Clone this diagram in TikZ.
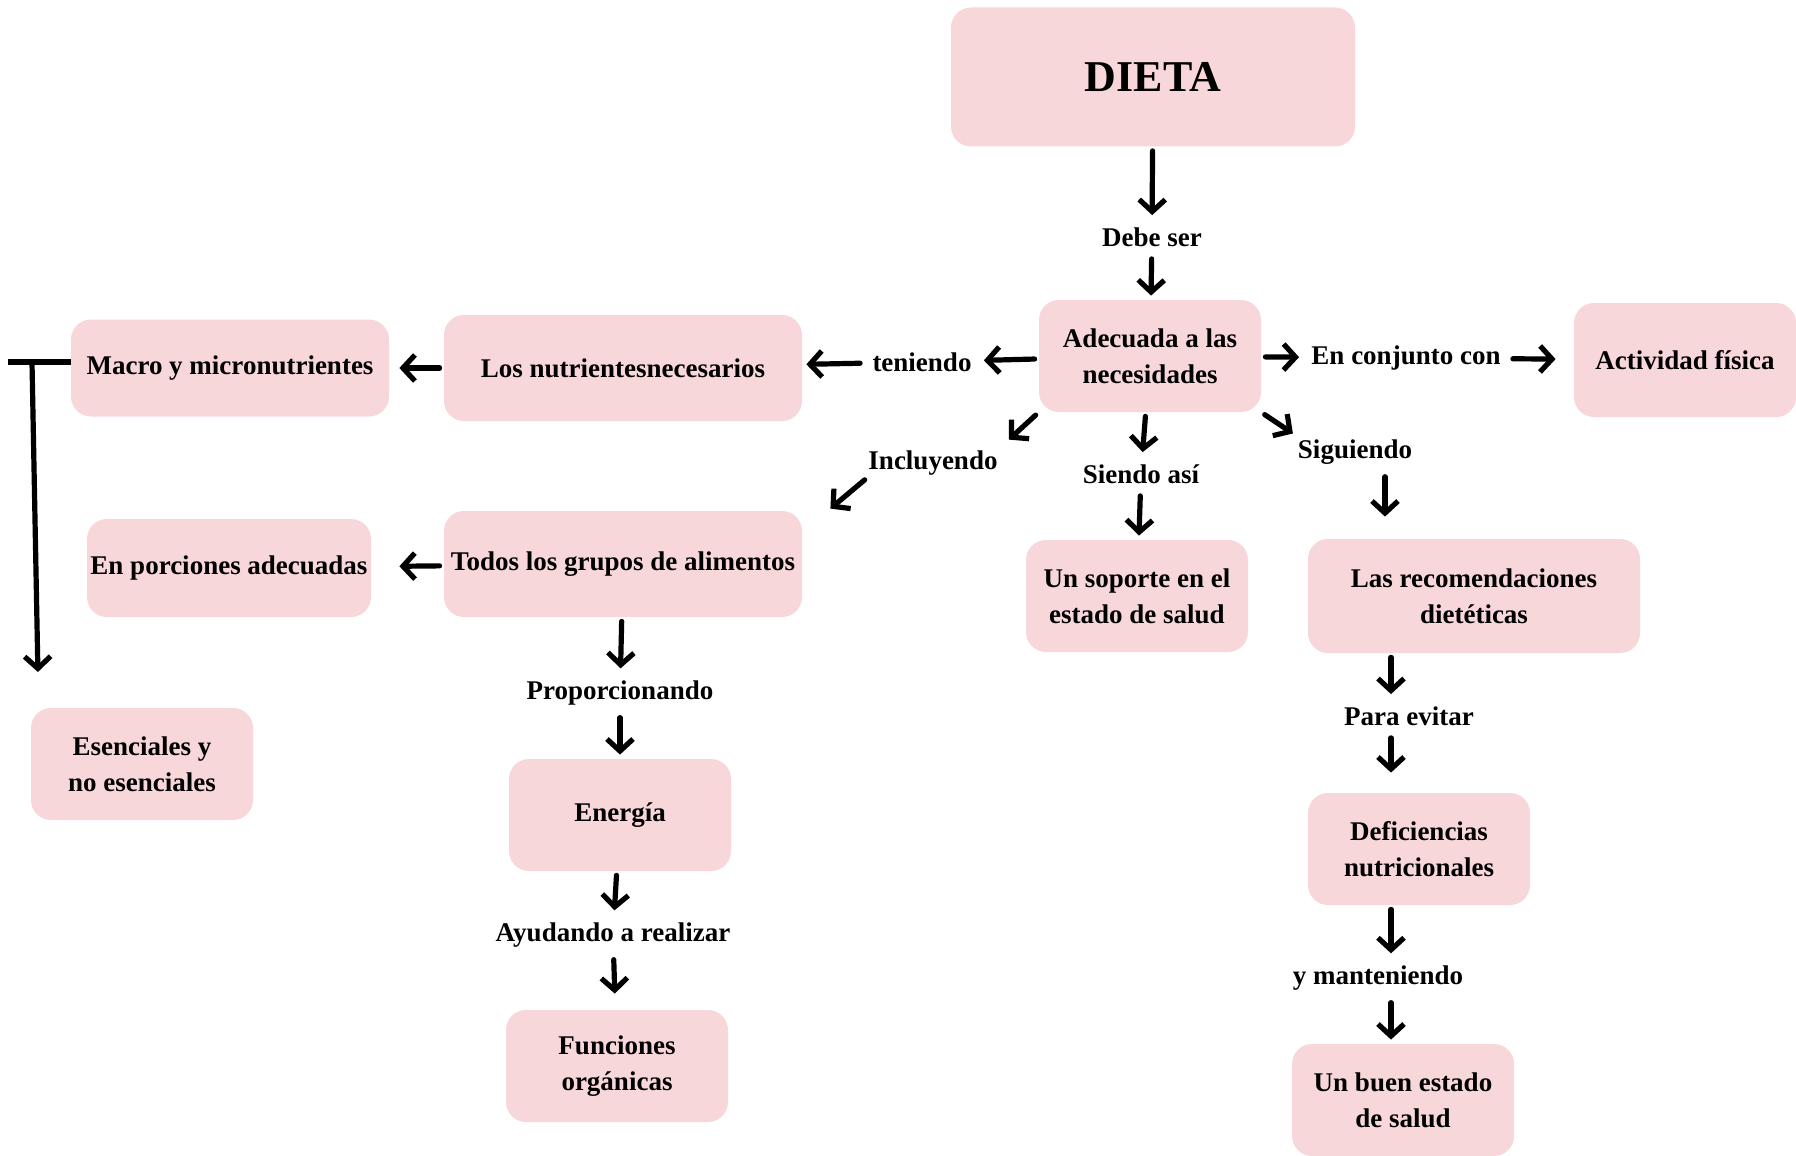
\documentclass[tikz,border=0pt]{standalone}
\usepackage{fontspec}
\setmainfont{Liberation Serif}
\usetikzlibrary{arrows.meta}
\definecolor{rosa}{RGB}{247,215,217}
\newcommand{\boxFont}[0]{\fontsize{13.5}{18}\selectfont\bfseries}

\begin{document}
\begin{tikzpicture}[x=0.5pt, y=-0.5pt]
  \tikzset{
    box/.style={fill=rosa, rounded corners=10pt, align=center, inner sep=0pt,
      minimum width=111pt, minimum height=56pt, font=\boxFont},
    lbl/.style={align=center, inner sep=4pt, font=\boxFont},
    arr/.style={-{Straight Barb[length=6pt,width=13pt]}, line width=2.6pt,
      line cap=round, shorten >=2pt, shorten <=2pt}
  }
  \useasboundingbox (0,0) rectangle (1796,1156);
  % boxes
  \node[box, minimum width=202pt, minimum height=69.5pt,
    font=\fontsize{22}{26}\selectfont\bfseries] (dieta) at (1153,77) {DIETA};
  \node[box] (adec) at (1150,356) {Adecuada a las\\necesidades};
  \node[box, minimum width=179pt, minimum height=53pt] (nutr) at (623,368) {Los nutrientesnecesarios};
  \node[box, minimum width=159pt, minimum height=48.5pt] (macro) at (230,368) {Macro y micronutrientes};
  \node[box, minimum width=142pt, minimum height=49pt] (porc) at (229,568) {En porciones adecuadas};
  \node[box, minimum width=179pt, minimum height=53pt] (todos) at (623,564) {Todos los grupos de alimentos};
  \node[box] (esen) at (142,764) {Esenciales y\\no esenciales};
  \node[box] (energia) at (620,815) {Energía};
  \node[box] (func) at (617,1066) {Funciones\\orgánicas};
  \node[box] (soporte) at (1137,596) {Un soporte en el\\estado de salud};
  \node[box, minimum width=166pt, minimum height=57pt] (recom) at (1474,596) {Las recomendaciones\\dietéticas};
  \node[box] (defic) at (1419,849) {Deficiencias\\nutricionales};
  \node[box] (buen) at (1403,1100) {Un buen estado\\de salud};
  \node[box, minimum height=57pt] (activ) at (1685,360) {Actividad física};
  % labels
  \node[lbl] (debe) at (1152,237) {Debe ser};
  \node[lbl] (ten) at (922,362) {teniendo};
  \node[lbl] (incl) at (933,463) {Incluyendo};
  \node[lbl] (siendo) at (1141,474) {Siendo así};
  \node[lbl] (sigu) at (1355,452) {Siguiendo};
  \node[lbl] (conj) at (1406,358) {En conjunto con};
  \node[lbl] (prop) at (620,693) {Proporcionando};
  \node[lbl] (ayud) at (613,935) {Ayudando a realizar};
  \node[lbl] (para) at (1409,716) {Para evitar};
  \node[lbl] (mant) at (1378,978) {y manteniendo};
  \coordinate (colR) at (1391,0);
  \coordinate (colS) at (1385,0);
  \coordinate (brk) at (32,362);
  \coordinate (brkl) at (8,362);
  \coordinate (brkend) at (38,676);
  % connectors
  \draw[arr] (dieta) -- (debe);
  \draw[arr] (debe) -- (adec);
  \draw[arr] (adec) -- (ten);
  \draw[arr] (ten) -- (nutr);
  \draw[arr, shorten >=5pt] (nutr) -- (macro);
  \draw[arr] (adec.south west) -- (incl.north east);
  \draw[arr, shorten <=-3pt, shorten >=0pt] (incl.south west) -- ([shift={(28,-2)}]todos.north east);
  \draw[arr, shorten >=14pt] (todos) -- (porc);
  \draw[arr] (todos) -- (prop);
  \draw[arr] (prop) -- (energia);
  \draw[arr] (energia) -- (ayud);
  \draw[arr, shorten >=8pt] (ayud) -- (func);
  \draw[arr] (adec) -- (siendo);
  \draw[arr] (siendo) -- (soporte);
  \draw[arr, shorten >=-2pt] (adec.south east) -- (sigu.north west);
  \draw[arr, shorten >=11pt] (sigu.south -| colS) -- (recom.north -| colS);
  \draw[arr] (recom.south -| colR) -- (para.north -| colR);
  \draw[arr, shorten >=10pt] (para.south -| colR) -- (defic.north -| colR);
  \draw[arr] (defic.south -| colR) -- (mant.north -| colR);
  \draw[arr] (mant.south -| colR) -- (buen.north -| colR);
  \draw[arr] (adec) -- (conj);
  \draw[arr, shorten >=9pt] (conj) -- (activ);
  \draw[line width=2.6pt] (macro.west |- brk) -- (brkl);
  \draw[arr, shorten <=0pt] (brk) -- (brkend);
\end{tikzpicture}
\end{document}
